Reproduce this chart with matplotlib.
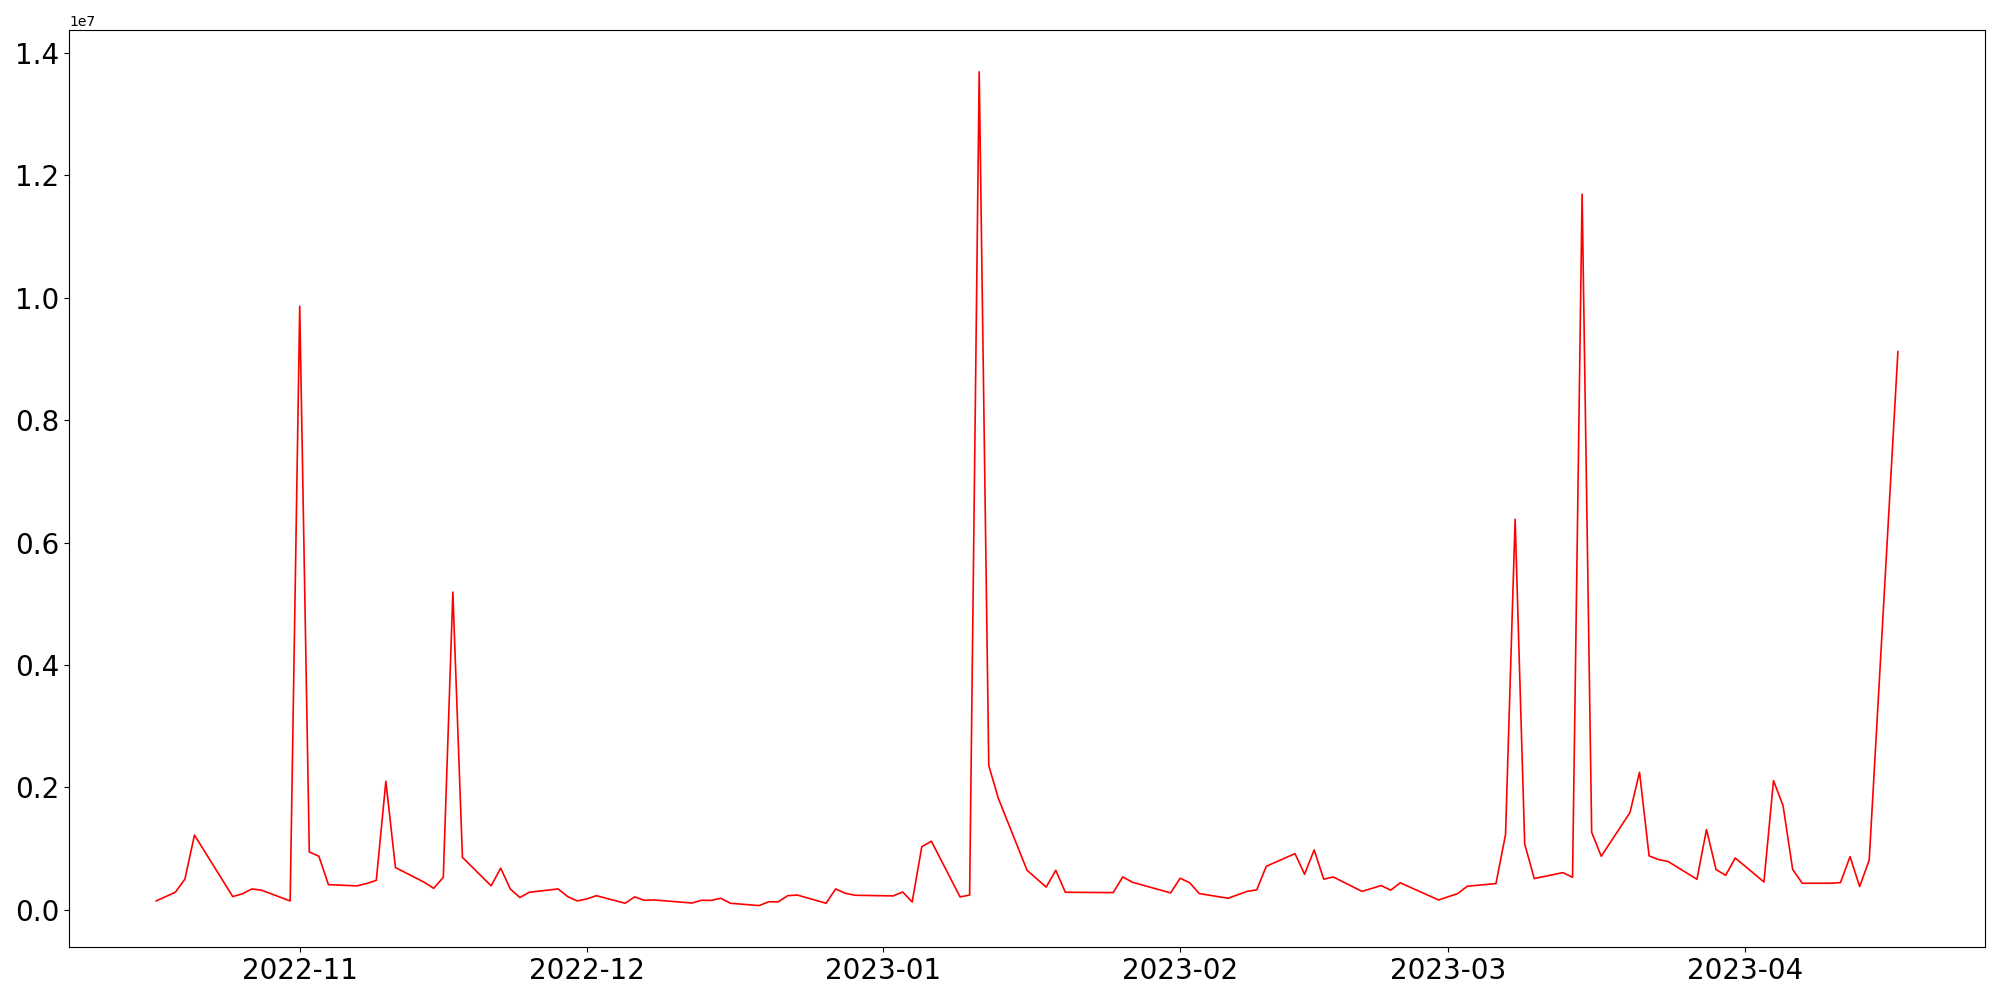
import matplotlib
matplotlib.use("Agg")
import matplotlib.pyplot as plt
import pandas as pd

# values (units of 1e6)
dates = [
    "2022-10-17", "2022-10-19", "2022-10-20", "2022-10-21", "2022-10-25",
    "2022-10-26", "2022-10-27", "2022-10-28", "2022-10-31", "2022-11-01",
    "2022-11-02", "2022-11-03", "2022-11-04", "2022-11-07", "2022-11-08",
    "2022-11-09", "2022-11-10", "2022-11-11", "2022-11-14", "2022-11-15",
    "2022-11-16", "2022-11-17", "2022-11-18", "2022-11-21", "2022-11-22",
    "2022-11-23", "2022-11-24", "2022-11-25", "2022-11-28", "2022-11-29",
    "2022-11-30", "2022-12-01", "2022-12-02", "2022-12-05", "2022-12-06",
    "2022-12-07", "2022-12-08", "2022-12-12", "2022-12-13", "2022-12-14",
    "2022-12-15", "2022-12-16", "2022-12-19", "2022-12-20", "2022-12-21",
    "2022-12-22", "2022-12-23", "2022-12-26", "2022-12-27", "2022-12-28",
    "2022-12-29", "2023-01-02", "2023-01-03", "2023-01-04", "2023-01-05",
    "2023-01-06", "2023-01-09", "2023-01-10", "2023-01-11", "2023-01-12",
    "2023-01-13", "2023-01-16", "2023-01-18", "2023-01-19", "2023-01-20",
    "2023-01-25", "2023-01-26", "2023-01-27", "2023-01-31", "2023-02-01",
    "2023-02-02", "2023-02-03", "2023-02-06", "2023-02-08", "2023-02-09",
    "2023-02-10", "2023-02-13", "2023-02-14", "2023-02-15", "2023-02-16",
    "2023-02-17", "2023-02-20", "2023-02-22", "2023-02-23", "2023-02-24",
    "2023-02-28", "2023-03-02", "2023-03-03", "2023-03-06", "2023-03-07",
    "2023-03-08", "2023-03-09", "2023-03-10", "2023-03-13", "2023-03-14",
    "2023-03-15", "2023-03-16", "2023-03-17", "2023-03-20", "2023-03-21",
    "2023-03-22", "2023-03-23", "2023-03-24", "2023-03-27", "2023-03-28",
    "2023-03-29", "2023-03-30", "2023-03-31", "2023-04-03", "2023-04-04",
    "2023-04-05", "2023-04-06", "2023-04-07", "2023-04-10", "2023-04-11",
    "2023-04-12", "2023-04-13", "2023-04-14", "2023-04-17",
]
values = [
    0.144, 0.286, 0.50, 1.22, 0.215,
    0.26, 0.34, 0.32, 0.144, 9.86,
    0.944, 0.874, 0.41, 0.39, 0.43,
    0.48, 2.10, 0.69, 0.45, 0.35,
    0.53, 5.19, 0.857, 0.39, 0.68,
    0.34, 0.20, 0.286, 0.34, 0.215,
    0.144, 0.177, 0.23, 0.106, 0.21,
    0.155, 0.16, 0.11, 0.155, 0.153,
    0.188, 0.106, 0.068, 0.13, 0.13,
    0.23, 0.24, 0.106, 0.34, 0.27,
    0.237, 0.226, 0.29, 0.127, 1.03,
    1.12, 0.21, 0.24, 13.69, 2.355,
    1.82, 0.645, 0.37, 0.645, 0.286,
    0.28, 0.536, 0.45, 0.275, 0.515,
    0.44, 0.264, 0.188, 0.30, 0.325,
    0.71, 0.917, 0.58, 0.977, 0.50,
    0.536, 0.30, 0.395, 0.32, 0.44,
    0.16, 0.264, 0.384, 0.428, 1.23,
    6.38, 1.075, 0.51, 0.607, 0.53,
    11.69, 1.266, 0.874, 1.587, 2.246,
    0.88, 0.82, 0.787, 0.498, 1.31,
    0.656, 0.563, 0.846, 0.454, 2.11,
    1.70, 0.66, 0.433, 0.433, 0.444,
    0.868, 0.379, 0.81, 9.12,
]

x = pd.to_datetime(dates)
y = [v * 1e6 for v in values]

fig, ax = plt.subplots(figsize=(20, 10), dpi=100)
ax.plot(x, y, color="red", linewidth=1.2)
ax.tick_params(axis="both", labelsize=20)
fig.tight_layout()
fig.savefig("out.png")
